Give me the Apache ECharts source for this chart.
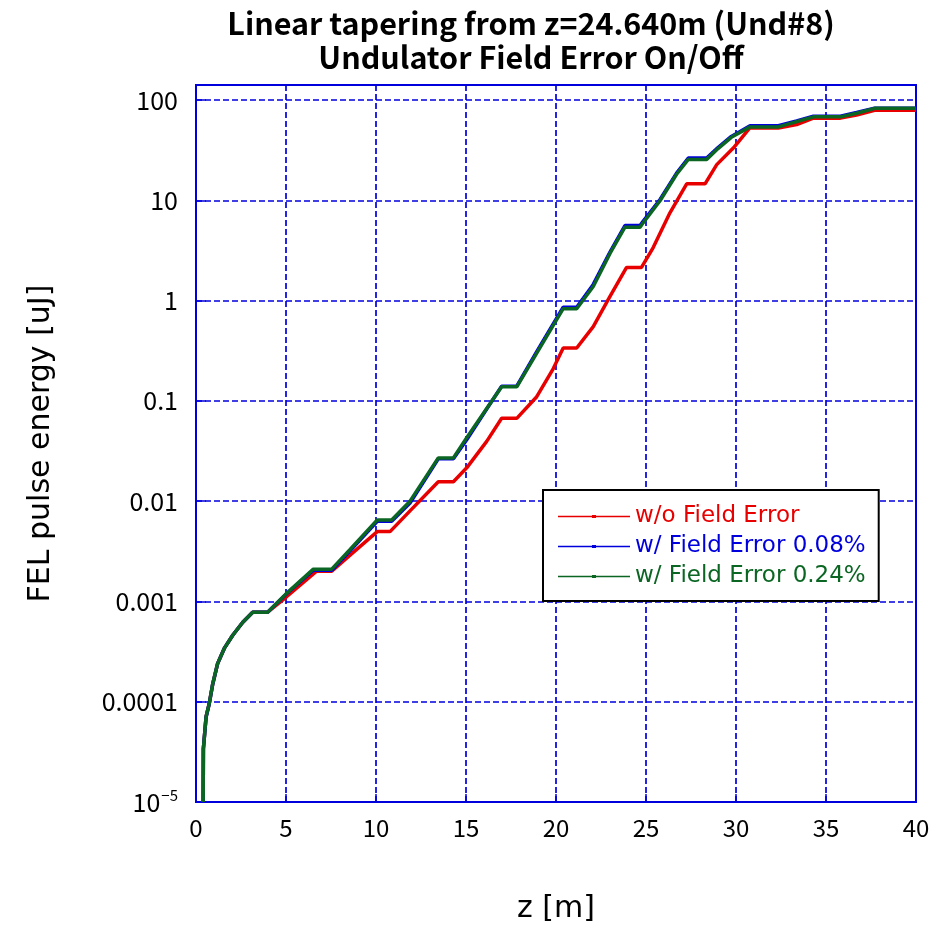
<!DOCTYPE html>
<html>
<head>
<meta charset="utf-8">
<script src="https://cdn.jsdelivr.net/npm/echarts@6/dist/echarts.min.js"></script>
<style>
  html, body { margin: 0; padding: 0; background: #fff; }
  #chart { width: 945px; height: 929px; }
</style>
</head>
<body>
<div id="chart"></div>
<script>
// FEL pulse energy along the undulator line (z in m, energy in uJ)
const zNoErr = [0.40, 0.41, 0.56, 0.74, 0.93, 1.20, 1.57, 2.04, 2.60, 3.15, 3.98, 5.00, 6.70, 7.54, 8.56, 10.07, 10.78, 11.89, 13.46, 14.30, 15.04, 16.15, 16.98, 17.82, 18.93, 19.85, 20.40, 21.15, 22.07, 23.00, 23.92, 24.75, 25.40, 26.33, 27.26, 28.28, 28.93, 29.85, 30.78, 32.35, 33.37, 34.30, 35.80, 36.70, 37.70, 40.00];
const eNoErr = [1.0e-5, 3.4e-5, 7.1e-5, 9.7e-5, 1.5e-4, 2.4e-4, 3.4e-4, 4.6e-4, 6.2e-4, 7.8e-4, 7.8e-4, 1.1e-3, 2.0e-3, 2.0e-3, 2.9e-3, 4.97e-3, 4.97e-3, 8.0e-3, 1.56e-2, 1.56e-2, 2.15e-2, 3.95e-2, 6.7e-2, 6.7e-2, 0.11, 0.21, 0.337, 0.337, 0.55, 1.1, 2.14, 2.14, 3.38, 7.5, 14.6, 14.6, 22.7, 33.2, 53.0, 52.5, 57, 66, 66, 71, 79, 79];

const zErr008 = [0.40, 0.41, 0.56, 0.74, 0.93, 1.20, 1.57, 2.04, 2.60, 3.15, 3.98, 5.00, 6.52, 7.54, 8.56, 10.07, 10.87, 11.89, 13.46, 14.30, 15.04, 16.15, 16.98, 17.82, 18.93, 20.40, 21.15, 22.07, 23.00, 23.83, 24.67, 24.85, 25.78, 26.70, 27.35, 28.37, 29.00, 29.74, 30.78, 32.35, 33.37, 34.30, 35.80, 36.70, 37.70, 40.00];
const eErr008 = [1.0e-5, 3.4e-5, 7.0e-5, 9.6e-5, 1.5e-4, 2.4e-4, 3.4e-4, 4.6e-4, 6.2e-4, 7.8e-4, 7.8e-4, 1.18e-3, 2.05e-3, 2.05e-3, 3.2e-3, 6.3e-3, 6.3e-3, 9.6e-3, 2.65e-2, 2.65e-2, 4.1e-2, 8.3e-2, 0.14, 0.14, 0.31, 0.86, 0.86, 1.45, 3.05, 5.6, 5.6, 6.2, 10.2, 18.7, 26.4, 26.4, 33.6, 43.4, 55.5, 55.5, 62, 69, 69, 75, 83, 83];

const zErr024 = [0.40, 0.41, 0.56, 0.74, 0.93, 1.20, 1.57, 2.04, 2.60, 3.15, 3.98, 5.00, 6.52, 7.54, 8.56, 10.07, 10.87, 11.89, 13.46, 14.30, 15.04, 16.15, 16.98, 17.82, 18.93, 20.40, 21.15, 22.07, 23.00, 23.83, 24.67, 24.85, 25.78, 26.70, 27.35, 28.37, 29.00, 29.74, 30.78, 32.35, 33.37, 34.30, 35.80, 36.70, 37.70, 40.00];
const eErr024 = [1.0e-5, 3.4e-5, 7.1e-5, 9.7e-5, 1.52e-4, 2.4e-4, 3.4e-4, 4.6e-4, 6.2e-4, 7.8e-4, 7.8e-4, 1.19e-3, 2.1e-3, 2.1e-3, 3.3e-3, 6.5e-3, 6.5e-3, 1.0e-2, 2.7e-2, 2.7e-2, 4.3e-2, 8.4e-2, 0.138, 0.138, 0.30, 0.83, 0.83, 1.38, 2.95, 5.4, 5.4, 6.0, 9.9, 18.2, 25.6, 25.6, 32.8, 42.5, 54.0, 54.0, 61, 68, 68, 73.8, 82.7, 82.7];

const seriesNames = ['w/o Field Error', 'w/ Field Error 0.08%', 'w/ Field Error 0.24%'];
const seriesColors = ['#e80000', '#0000dd', '#0b6623'];
const xTicks = [0, 5, 10, 15, 20, 25, 30, 35, 40];
const yTickLabels = ['10^-5', '0.0001', '0.001', '0.01', '0.1', '1', '10', '100'];

const FONT = '"Noto Sans CJK JP", "Noto Sans", sans-serif';
const WIDE_FONT = '"DejaVu Sans", "Noto Sans", sans-serif';
const GRID_BLUE = '#0000dd';

function pairs(zs, es) { return zs.map((z, i) => [z, es[i]]); }

const chart = echarts.init(document.getElementById('chart'), null, { renderer: 'canvas' });

// legend sample: thin line with a small square marker in the middle
const lineIcon = 'path://M0,1.3H72V2.7H0Z M34,0.6H38V3.4H34Z';

chart.setOption({
  animation: false,
  backgroundColor: '#fff',
  title: {
    text: 'Linear tapering from z=24.640m (Und#8)\nUndulator Field Error On/Off',
    left: 526,
    top: 1,
    textAlign: 'center',
    textStyle: { fontFamily: FONT, fontSize: 30.5, fontWeight: 'bold', color: '#000', lineHeight: 34 }
  },
  grid: {
    left: 196, top: 85, right: 29, bottom: 123,
    show: true, borderColor: GRID_BLUE, borderWidth: 2, backgroundColor: 'transparent'
  },
  legend: {
    orient: 'vertical',
    left: 543, top: 490,
    padding: [15, 13, 13, 15],
    itemGap: 7,
    itemWidth: 72, itemHeight: 4,
    icon: lineIcon,
    borderColor: '#000', borderWidth: 2,
    backgroundColor: '#fff',
    textStyle: { fontFamily: WIDE_FONT, fontSize: 23, padding: [0, 0, 0, 0] },
    data: seriesNames.map((n, i) => ({ name: n, textStyle: { color: seriesColors[i] } }))
  },
  xAxis: {
    type: 'value', min: xTicks[0], max: xTicks[xTicks.length - 1], interval: 5,
    name: 'z [m]', nameLocation: 'middle', nameGap: 92,
    nameTextStyle: { fontFamily: WIDE_FONT, fontSize: 30, color: '#000' },
    axisLine: { show: true, lineStyle: { color: GRID_BLUE, width: 2 } },
    axisTick: { show: true, inside: true, length: 8, lineStyle: { color: GRID_BLUE, width: 1.5 } },
    axisLabel: { margin: 14, fontFamily: FONT, fontSize: 24, color: '#000' },
    splitLine: { show: true, lineStyle: { color: GRID_BLUE, width: 1.7, type: [6, 3] } }
  },
  yAxis: {
    type: 'log', min: 1e-5, max: Math.pow(10, 2.15), logBase: 10,
    name: 'FEL pulse energy [uJ]', nameLocation: 'middle', nameGap: 140, nameRotate: 90,
    nameTextStyle: { fontFamily: WIDE_FONT, fontSize: 30, color: '#000' },
    axisLine: { show: true, lineStyle: { color: GRID_BLUE, width: 2 } },
    axisTick: { show: true, inside: true, length: 10, lineStyle: { color: GRID_BLUE, width: 1.5 } },
    axisLabel: {
      margin: 18, fontFamily: FONT, fontSize: 25, color: '#000',
      formatter: function (v) {
        const p = Math.log10(v);
        const k = Math.round(p);
        if (Math.abs(p - k) > 1e-6) return '';
        const s = yTickLabels[k + 5];
        if (s === undefined) return '';
        if (s.indexOf('^') >= 0) {
          const parts = s.split('^');
          return parts[0] + '{sup|' + parts[1].replace('-', '\u2212') + '}';
        }
        return s;
      },
      rich: {
        sup: { fontFamily: FONT, fontSize: 15, color: '#000', verticalAlign: 'top', padding: [0, 0, 13, 1] }
      }
    },
    splitLine: { show: true, lineStyle: { color: GRID_BLUE, width: 1.7, type: [6, 3] } },
    minorTick: { show: false }
  },
  series: [
    { name: seriesNames[0], type: 'line', data: pairs(zNoErr, eNoErr), color: seriesColors[0],
      showSymbol: false, symbol: 'none', lineStyle: { width: 3.5, color: seriesColors[0] }, z: 2 },
    { name: seriesNames[1], type: 'line', data: pairs(zErr008, eErr008), color: seriesColors[1],
      showSymbol: false, symbol: 'none', lineStyle: { width: 3.5, color: seriesColors[1] }, z: 3 },
    { name: seriesNames[2], type: 'line', data: pairs(zErr024, eErr024), color: seriesColors[2],
      showSymbol: false, symbol: 'none', lineStyle: { width: 3.5, color: seriesColors[2] }, z: 4 }
  ]
});
</script>
</body>
</html>
